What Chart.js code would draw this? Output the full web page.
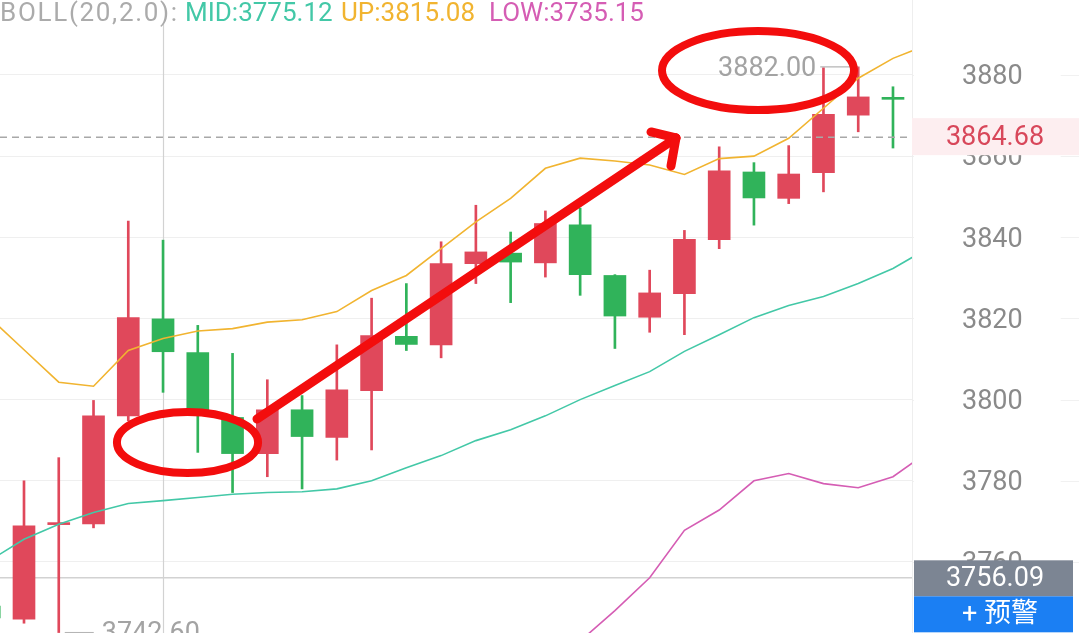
<!DOCTYPE html>
<html><head><meta charset="utf-8">
<script src="https://cdn.jsdelivr.net/npm/chart.js@4.4.1/dist/chart.umd.min.js"></script>
<style>html,body{margin:0;padding:0;background:#fff;overflow:hidden}canvas{display:block}</style>
</head><body>
<canvas id="c" width="1079" height="633"></canvas>
<script>
// ---- DATA ----
const opens  = [3749.1,3745.9,3769.2,3769.4,3796.0,3819.9,3811.6,3795.6,3786.7,3797.5,3790.7,3802.2,3815.6,3813.5,3833.5,3836.1,3833.7,3843.1,3830.6,3820.3,3826.1,3839.4,3856.1,3849.6,3855.9,3870.1,3874.4];
const highs  = [3752.0,3780.0,3785.7,3799.8,3844.0,3839.3,3818.3,3811.4,3804.9,3801.0,3813.5,3825.0,3828.6,3838.9,3847.9,3841.3,3846.5,3847.2,3830.8,3831.9,3841.7,3862.3,3858.4,3862.6,3881.8,3882.0,3877.1];
const lows   = [3743.5,3744.9,3742.6,3768.4,3794.8,3801.8,3787.0,3777.1,3781.0,3778.0,3785.1,3787.6,3812.1,3810.3,3828.6,3823.9,3830.2,3825.7,3812.6,3816.6,3816.0,3837.2,3843.0,3848.3,3851.2,3866.0,3862.0];
const closes = [3746.2,3768.9,3769.6,3796.0,3820.2,3811.8,3797.3,3786.7,3797.5,3790.9,3802.4,3815.8,3813.6,3833.5,3836.4,3833.9,3843.4,3830.8,3820.6,3826.3,3839.5,3856.4,3849.7,3855.6,3870.3,3874.6,3874.0];
const bollUp  = [3820.3,3812.3,3804.3,3803.3,3812.1,3815.08,3816.9,3817.5,3819.1,3819.7,3821.7,3826.9,3830.6,3837.2,3843.8,3849.6,3857.0,3859.5,3858.8,3857.8,3855.5,3859.4,3860.0,3864.4,3871.8,3879.2,3884.1,3887.5];
const bollMid = [3760.3,3765.6,3769.3,3772.2,3774.4,3775.12,3775.9,3776.7,3777.1,3777.3,3778.0,3780.0,3783.2,3786.2,3789.9,3792.6,3796.0,3800.0,3803.5,3806.9,3811.9,3816.0,3820.2,3823.2,3825.4,3828.6,3832.3,3837.3];
const bollLow = [3700.3,3718.9,3734.3,3741.1,3736.7,3735.15,3734.9,3735.9,3735.1,3734.9,3734.3,3733.1,3735.8,3735.2,3736.0,3735.6,3735.0,3740.5,3748.0,3756.1,3767.8,3772.8,3780.0,3781.8,3779.3,3778.3,3781.0,3787.1];
const tickValues = [3760,3780,3800,3820,3840,3860,3880];
const lastPrice = 3864.68;
const crossPrice = 3756.09;
const crossIndex = 5;
const highMark = {index: 25, value: 3882.00};
const lowMark  = {index: 2,  value: 3742.60};
const alertLabel = '+ 预警';

// ---- styles ----
const RED = '#e0485b', GREEN = '#30b35a';
const C_UP = '#f1b430', C_MID = '#43c8a7', C_LOW = '#d55db4';
const FONT = 'Roboto, "Noto Sans", sans-serif';
const ANN = '#f30d0d';

const candleColors = closes.map((c, i) => c >= opens[i] ? RED : GREEN);
const wickData = highs.map((h, i) => ({x: i, y: [lows[i], h]}));
const bodyData = opens.map((o, i) => ({x: i, y: [o, closes[i]]}));
const lineData = arr => arr.map((v, i) => ({x: i, y: v}));

// annotation overlay (hand-drawn marks), in data units
const ann = {
  ellipses: [{x: 5.704, y: 3789.44, rx: 2.03, ry: 7.52}, {x: 22.117, y: 3881.1, rx: 2.762, ry: 9.73}],
  arrow: {from: {x: 7.703, y: 3795.23}, to: {x: 19.757, y: 3864.48},
          arms: [{x: 19.038, y: 3865.96}, {x: 19.613, y: 3857.58}]}
};
const legendX = [0, 185, 341, 489];
const legendSpacing = ['1.7px', '0px', '0px', '0px'];

const overlay = {
  id: 'overlay',
  beforeDraw(chart) {
    const {ctx, chartArea: ca, scales: {y}} = chart;
    ctx.save();
    ctx.strokeStyle = '#f1f1f1'; ctx.lineWidth = 1;
    tickValues.forEach(v => {
      const py = Math.round(y.getPixelForValue(v)) + 0.5;
      ctx.beginPath(); ctx.moveTo(ca.right, py); ctx.lineTo(chart.width, py); ctx.stroke();
    });
    ctx.restore();
  },
  beforeDatasetsDraw(chart) {
    const {ctx, chartArea: ca, scales: {x, y}} = chart;
    ctx.save();
    ctx.strokeStyle = '#d2d2d2'; ctx.lineWidth = 1.2;
    const cx = Math.round(x.getPixelForValue(crossIndex)) + 0.5;
    ctx.beginPath(); ctx.moveTo(cx, 22); ctx.lineTo(cx, ca.bottom); ctx.stroke();
    const cy = y.getPixelForValue(crossPrice);
    ctx.lineWidth = 1.5;
    ctx.beginPath(); ctx.moveTo(ca.left, cy); ctx.lineTo(ca.right, cy); ctx.stroke();
    ctx.restore();
  },
  afterDatasetsDraw(chart) {
    const {ctx, chartArea: ca, scales: {x, y}} = chart;
    ctx.save();
    // last price dashed line
    const ly = y.getPixelForValue(lastPrice);
    ctx.strokeStyle = '#a8a8a8'; ctx.lineWidth = 1.5; ctx.setLineDash([7, 5]);
    ctx.beginPath(); ctx.moveTo(ca.left, ly); ctx.lineTo(ca.right, ly); ctx.stroke();
    ctx.setLineDash([]);
    // high / low markers
    ctx.font = '27px ' + FONT; ctx.fillStyle = '#a3a3a3'; ctx.textBaseline = 'middle';
    ctx.strokeStyle = '#b5b5b5'; ctx.lineWidth = 1.2;
    const hx = x.getPixelForValue(highMark.index), hy = y.getPixelForValue(highMark.value);
    ctx.beginPath(); ctx.moveTo(hx, hy); ctx.lineTo(hx - 38, hy); ctx.stroke();
    ctx.textAlign = 'right'; ctx.fillText(highMark.value.toFixed(2), hx - 42, hy + 2);
    const mx = x.getPixelForValue(lowMark.index), my = y.getPixelForValue(lowMark.value);
    ctx.beginPath(); ctx.moveTo(mx + 6, my); ctx.lineTo(mx + 35, my); ctx.stroke();
    ctx.textAlign = 'left'; ctx.fillText(lowMark.value.toFixed(2), mx + 43, my + 2);
    ctx.restore();
  },
  afterDraw(chart) {
    const {ctx, chartArea: ca, scales: {x, y}} = chart;
    ctx.save();
    // hand-drawn red annotations
    ctx.strokeStyle = ANN; ctx.lineCap = 'round'; ctx.lineJoin = 'round';
    ctx.lineWidth = 8;
    ann.ellipses.forEach(e => {
      const px = x.getPixelForValue(e.x), py = y.getPixelForValue(e.y);
      const rx = Math.abs(x.getPixelForValue(e.x + e.rx) - px);
      const ry = Math.abs(y.getPixelForValue(e.y + e.ry) - py);
      ctx.beginPath(); ctx.ellipse(px, py, rx, ry, 0, 0, Math.PI * 2); ctx.stroke();
    });
    ctx.lineWidth = 9;
    const a = ann.arrow;
    const P = p => [x.getPixelForValue(p.x), y.getPixelForValue(p.y)];
    const [fx, fy] = P(a.from), [tx, ty] = P(a.to);
    ctx.beginPath(); ctx.moveTo(fx, fy); ctx.lineTo(tx, ty); ctx.stroke();
    a.arms.forEach(m => { const [ax, ay] = P(m); ctx.beginPath(); ctx.moveTo(ax, ay); ctx.lineTo(tx, ty); ctx.stroke(); });

    // last price tag
    const ly = y.getPixelForValue(lastPrice);
    ctx.fillStyle = '#fdeef0';
    ctx.fillRect(ca.right, ly - 19, chart.width - ca.right, 37);
    ctx.font = '27px ' + FONT; ctx.textAlign = 'center'; ctx.textBaseline = 'middle';
    ctx.fillStyle = '#d8475a';
    ctx.fillText(lastPrice.toFixed(2), 995, ly + 1.5);
    // crosshair price tag + alert button
    const cy = y.getPixelForValue(crossPrice);
    ctx.fillStyle = '#7c8593';
    ctx.fillRect(914, cy - 17.5, 159, 36);
    ctx.fillStyle = '#1b7ff3';
    ctx.fillRect(914, cy + 18.5, 159, 36);
    ctx.fillStyle = '#ffffff';
    ctx.fillText(crossPrice.toFixed(2), 995, cy + 1.5);
    ctx.font = '27px ' + FONT + ', "Noto Sans CJK SC"';
    ctx.fillText(alertLabel, 1000, cy + 37.5);

    // BOLL legend
    ctx.font = '26px ' + FONT; ctx.textAlign = 'left'; ctx.textBaseline = 'alphabetic';
    const parts = [
      ['BOLL(20,2.0):', '#ababab'],
      ['MID:' + bollMid[crossIndex].toFixed(2), C_MID],
      ['UP:' + bollUp[crossIndex].toFixed(2), C_UP],
      ['LOW:' + bollLow[crossIndex].toFixed(2), C_LOW]
    ];
    parts.forEach(([t, c], i) => {
      ctx.letterSpacing = legendSpacing[i];
      ctx.fillStyle = c; ctx.fillText(t, legendX[i], 21);
    });
    ctx.letterSpacing = '0px';
    ctx.restore();
  }
};

new Chart(document.getElementById('c'), {
  type: 'bar',
  data: {
    datasets: [
      {type: 'line', data: lineData(bollUp), borderColor: C_UP, borderWidth: 1.6, pointRadius: 0, tension: 0, order: 0},
      {type: 'line', data: lineData(bollMid), borderColor: C_MID, borderWidth: 1.6, pointRadius: 0, tension: 0, order: 0},
      {type: 'line', data: lineData(bollLow), borderColor: C_LOW, borderWidth: 1.6, pointRadius: 0, tension: 0, order: 0},
      {data: bodyData, backgroundColor: candleColors, barThickness: 22, grouped: false, minBarLength: 2, order: 1},
      {data: wickData, backgroundColor: candleColors, barThickness: 2, grouped: false, order: 2}
    ]
  },
  options: {
    responsive: false, animation: false, devicePixelRatio: 1,
    layout: {padding: 0},
    plugins: {legend: {display: false}, tooltip: {enabled: false}},
    scales: {
      x: {type: 'linear', offset: false, min: 0.3096, max: 26.547, display: false, grid: {display: false}},
      y: {
        position: 'right', min: 3742.49, max: 3898.48,
        afterFit: s => { s.width = 167; s.paddingTop = 0; s.paddingBottom = 0; },
        afterBuildTicks: s => { s.ticks = tickValues.map(v => ({value: v})); },
        ticks: {color: '#8a8a8a', font: {family: FONT, size: 27}, crossAlign: 'center', padding: 50,
                labelOffset: 2.5, callback: v => String(v),
                showLabelBackdrop: true, backdropColor: '#ffffff', backdropPadding: {left: 48, right: 38, top: 2, bottom: 2}},
        grid: {color: '#efefef', drawTicks: false, lineWidth: 1},
        border: {display: true, color: '#eeeeee'}
      }
    }
  },
  plugins: [overlay]
});
</script>
</body></html>
